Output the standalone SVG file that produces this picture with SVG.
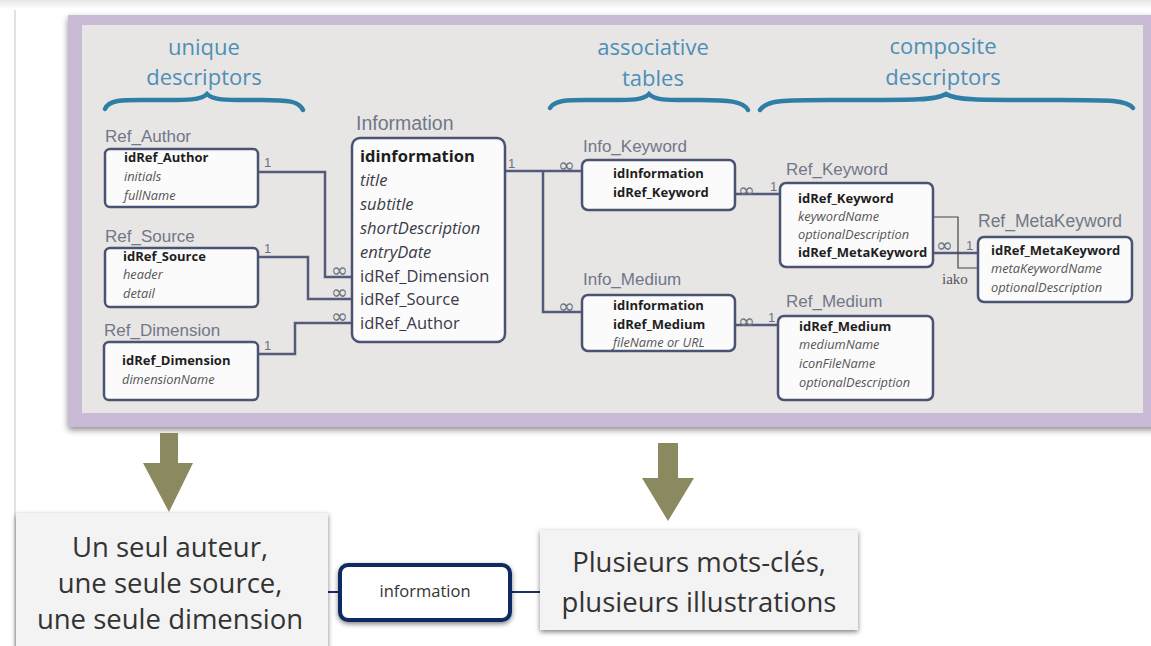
<svg xmlns="http://www.w3.org/2000/svg" width="1151" height="646" viewBox="0 0 1151 646">
<defs>
<linearGradient id="topband" x1="0" y1="0" x2="0" y2="1">
<stop offset="0" stop-color="#e6e6e6"/><stop offset="1" stop-color="#ffffff"/>
</linearGradient>
<filter id="sh" x="-10%" y="-10%" width="120%" height="130%">
<feDropShadow dx="0" dy="3" stdDeviation="3" flood-color="#000" flood-opacity="0.45"/>
</filter>
<filter id="sh2" x="-10%" y="-10%" width="120%" height="130%">
<feDropShadow dx="0" dy="2" stdDeviation="2.5" flood-color="#000" flood-opacity="0.5"/>
</filter>
<marker id="ah" viewBox="0 0 8 8" refX="7" refY="4" markerWidth="6" markerHeight="6" orient="auto">
<path d="M0,0 L8,4 L0,8 z" fill="#333"/>
</marker>
<style>
.hd{font-family:"Open Sans",sans-serif;font-size:22px;fill:#4d8fb6;text-anchor:middle}
.brace{fill:none;stroke:#2f7ea6;stroke-width:4.5;stroke-linecap:round}
.lbl{font-family:"Liberation Sans",Arial,sans-serif;font-size:17px;fill:#707888}
.tbl{fill:#fbfbfb;stroke:#4b5372;stroke-width:2.5}
.b{font-family:"Open Sans",sans-serif;font-size:13px;font-weight:bold;fill:#1e1e1e}
.i{font-family:"Open Sans",sans-serif;font-size:12.8px;font-style:italic;fill:#555}
.ib{font-family:"Open Sans",sans-serif;font-size:16.5px;font-weight:bold;fill:#1e1e1e}
.ii{font-family:"Open Sans",sans-serif;font-size:16.5px;font-style:italic;fill:#3a3a48}
.ir{font-family:"Open Sans",sans-serif;font-size:16.5px;fill:#3a3a48}
.con{fill:none;stroke:#535a7a;stroke-width:2.5}
.thin{fill:none;stroke:#444;stroke-width:1.2}
.card{font-family:"Liberation Sans",Arial,sans-serif;font-size:13px;fill:#6b7383}
.inf{font-family:"DejaVu Sans",sans-serif;font-size:20px;fill:#6b7383}
.olive{fill:#8b895f}
.box{fill:#f3f3f3}
.bt{font-family:"Open Sans",sans-serif;font-size:27.5px;fill:#333;text-anchor:middle}
</style>
</defs>

<rect x="0" y="0" width="1151" height="646" fill="#ffffff"/>
<rect x="0" y="0" width="1151" height="9" fill="url(#topband)"/>
<line x1="15" y1="10" x2="15" y2="646" stroke="#d8d8d8" stroke-width="1.5"/>

<g id="frame">
<rect x="68" y="15" width="1090" height="412" fill="#c9bbd6" filter="url(#sh)"/>
<rect x="82" y="25" width="1061" height="388" fill="#e8e5e5"/>
</g>

<g id="headings">
<text class="hd" x="204" y="55">unique</text>
<text class="hd" x="204" y="85">descriptors</text>
<path class="brace" d="M105,109 C109,99 125,100 150,100 C185,100 200,101 207,94 C214,101 228,100 262,100 C288,100 299,101 303,110"/>
<text class="hd" x="653" y="55">associative</text>
<text class="hd" x="653" y="86">tables</text>
<path class="brace" d="M550,108 C555,99 570,100 595,100 C630,100 642,101 649,94 C656,101 668,100 700,100 C728,100 743,101 748,110"/>
<text class="hd" x="943" y="54">composite</text>
<text class="hd" x="943" y="85">descriptors</text>
<path class="brace" d="M760,110 C766,100 785,100 830,100 C905,100 935,101 946,94 C957,101 985,100 1060,100 C1110,100 1127,100 1133,108"/>
</g>

<g id="connectors">
<polyline class="con" points="258,172 325,172 325,277 352,277"/>
<polyline class="con" points="258,257 308,257 308,299 352,299"/>
<polyline class="con" points="258,354 295,354 295,323 352,323"/>
<polyline class="con" points="505,171 582,171"/>
<polyline class="con" points="543,171 543,312 582,312"/>
<polyline class="con" points="735,194 780,194"/>
<polyline class="con" points="735,325 778,325"/>
<polyline class="con" points="933,253 978,253"/>
<polyline class="thin" points="905,217 958,217 958,268 985,268" marker-end="url(#ah)"/>
<text x="942" y="284" font-family="Liberation Serif,serif" font-size="15" fill="#555">iako</text>
<text class="card" x="264" y="167">1</text>
<text class="card" x="264" y="253">1</text>
<text class="card" x="264" y="350">1</text>
<text class="inf" x="331" y="277">∞</text>
<text class="inf" x="331" y="299">∞</text>
<text class="inf" x="331" y="323">∞</text>
<text class="card" x="508" y="168">1</text>
<text class="inf" x="558" y="172">∞</text>
<text class="inf" x="558" y="313">∞</text>
<text class="inf" x="738" y="197">∞</text>
<text class="card" x="770" y="191">1</text>
<text class="inf" x="738" y="328">∞</text>
<text class="card" x="768" y="322">1</text>
<text class="inf" x="936" y="252">∞</text>
<text class="card" x="966" y="250">1</text>
</g>

<g id="Ref_Author">
<text class="lbl" x="105" y="142">Ref_Author</text>
<rect class="tbl" x="105" y="149" width="153" height="58" rx="5"/>
<text class="b" x="124" y="162">idRef_Author</text>
<text class="i" x="124" y="181">initials</text>
<text class="i" x="124" y="200">fullName</text>
</g>

<g id="Ref_Source">
<text class="lbl" x="105" y="242">Ref_Source</text>
<rect class="tbl" x="105" y="248" width="153" height="59" rx="5"/>
<text class="b" x="123" y="261">idRef_Source</text>
<text class="i" x="123" y="279">header</text>
<text class="i" x="123" y="298">detail</text>
</g>

<g id="Ref_Dimension">
<text class="lbl" x="104" y="336">Ref_Dimension</text>
<rect class="tbl" x="104" y="342" width="154" height="58" rx="5"/>
<text class="b" x="122" y="365">idRef_Dimension</text>
<text class="i" x="122" y="384">dimensionName</text>
</g>

<g id="Information">
<text class="lbl" x="356" y="130" style="font-size:19.5px">Information</text>
<rect class="tbl" x="352" y="138" width="153" height="204" rx="8"/>
<text class="ib" x="360" y="162">idinformation</text>
<text class="ii" x="360" y="186">title</text>
<text class="ii" x="360" y="210">subtitle</text>
<text class="ii" x="360" y="234">shortDescription</text>
<text class="ii" x="360" y="258">entryDate</text>
<text class="ir" x="360" y="282">idRef_Dimension</text>
<text class="ir" x="360" y="305">idRef_Source</text>
<text class="ir" x="360" y="329">idRef_Author</text>
</g>

<g id="Info_Keyword">
<text class="lbl" x="583" y="152">Info_Keyword</text>
<rect class="tbl" x="582" y="160" width="153" height="50" rx="6"/>
<text class="b" x="613" y="178">idInformation</text>
<text class="b" x="613" y="197">idRef_Keyword</text>
</g>

<g id="Info_Medium">
<text class="lbl" x="583" y="285">Info_Medium</text>
<rect class="tbl" x="582" y="295" width="153" height="56" rx="6"/>
<text class="b" x="613" y="310">idInformation</text>
<text class="b" x="613" y="329">idRef_Medium</text>
<text class="i" x="613" y="347">fileName or URL</text>
</g>

<g id="Ref_Keyword">
<text class="lbl" x="786" y="175">Ref_Keyword</text>
<rect class="tbl" x="780" y="183" width="153" height="84" rx="6"/>
<text class="b" x="798" y="203">idRef_Keyword</text>
<text class="i" x="798" y="221">keywordName</text>
<text class="i" x="798" y="239">optionalDescription</text>
<text class="b" x="798" y="257">idRef_MetaKeyword</text>
</g>

<g id="Ref_MetaKeyword">
<text class="lbl" x="978" y="227" style="font-size:17.5px">Ref_MetaKeyword</text>
<rect class="tbl" x="978" y="237" width="154" height="65" rx="6"/>
<text class="b" x="991" y="255">idRef_MetaKeyword</text>
<text class="i" x="991" y="273">metaKeywordName</text>
<text class="i" x="991" y="292">optionalDescription</text>
</g>

<g id="Ref_Medium">
<text class="lbl" x="786" y="307">Ref_Medium</text>
<rect class="tbl" x="778" y="316" width="155" height="84" rx="6"/>
<text class="b" x="799" y="331">idRef_Medium</text>
<text class="i" x="799" y="349">mediumName</text>
<text class="i" x="799" y="368">iconFileName</text>
<text class="i" x="799" y="387">optionalDescription</text>
</g>

<g id="arrows">
<path class="olive" d="M160,433 L178,433 L178,463 L193,463 L169,512 L143,463 L160,463 z"/>
<path class="olive" d="M658,443 L678,443 L678,478 L694,478 L668,521 L642,478 L658,478 z"/>
</g>

<g id="bottom-links">
<line x1="328" y1="592" x2="339" y2="592" stroke="#1a2f6a" stroke-width="2"/>
<line x1="511" y1="592" x2="540" y2="592" stroke="#1a2f6a" stroke-width="2"/>
</g>

<g id="unique-box">
<rect class="box" x="16" y="513" width="312" height="140" filter="url(#sh2)"/>
<text class="bt" x="170" y="557">Un seul auteur,</text>
<text class="bt" x="170" y="593">une seule source,</text>
<text class="bt" x="170" y="629">une seule dimension</text>
</g>

<g id="information-box">
<rect x="340" y="565" width="170" height="55" rx="8" fill="#ffffff" stroke="#0f2a64" stroke-width="4" filter="url(#sh2)"/>
<text x="425" y="597" font-family="Open Sans,sans-serif" font-size="16.5" fill="#333" text-anchor="middle">information</text>
</g>

<g id="multi-box">
<rect class="box" x="540" y="530" width="318" height="100" filter="url(#sh2)"/>
<text class="bt" x="699" y="572">Plusieurs mots-clés,</text>
<text class="bt" x="699" y="612">plusieurs illustrations</text>
</g>
</svg>
